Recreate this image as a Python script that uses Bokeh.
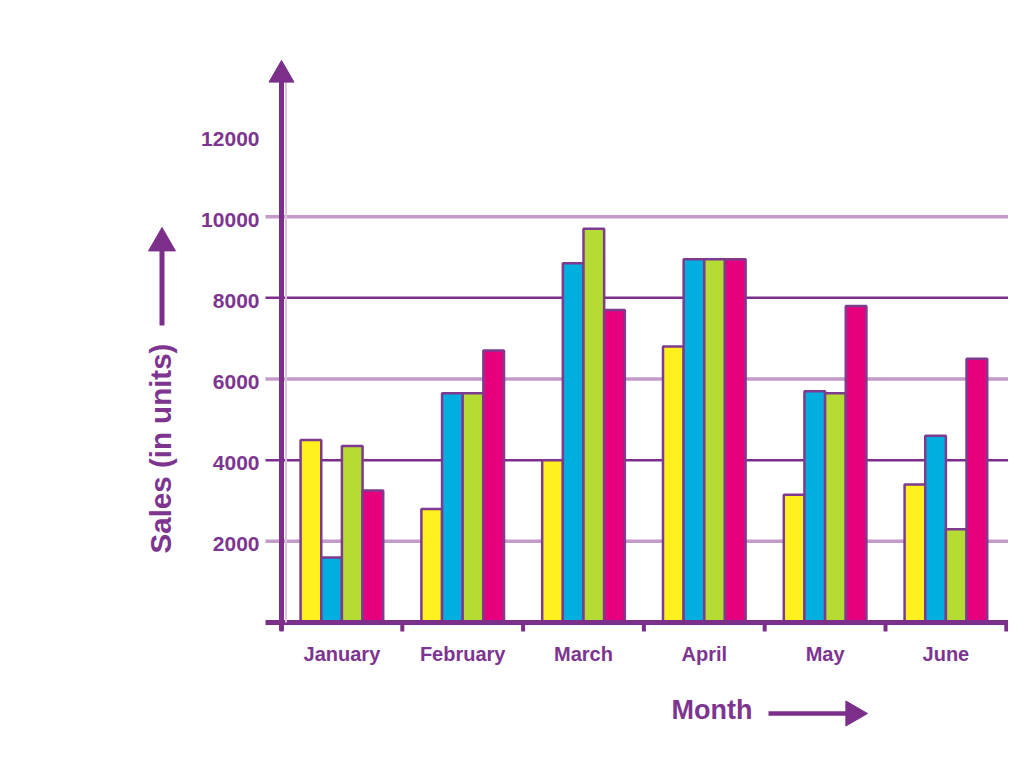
import numpy as np
from bokeh.plotting import figure
from bokeh.models import Range1d
from bokeh.core.properties import value
from bokeh.embed import file_html
from bokeh.resources import INLINE

# ---- data ----
months = ["January", "February", "March", "April", "May", "June"]
series_yellow = [4500, 2800, 4000, 6800, 3150, 3400]
series_blue = [1600, 5650, 8850, 8950, 5700, 4600]
series_green = [4350, 5650, 9700, 8950, 5650, 2300]
series_pink = [3250, 6700, 7700, 8950, 7800, 6500]
y_tick_values = [2000, 4000, 6000, 8000, 10000, 12000]
y_tick_labels = ["2000", "4000", "6000", "8000", "10000", "12000"]
light_grid_values = [2000, 6000, 10000]
dark_grid_values = [4000, 8000]

# ---- style ----
PURPLE = "#7b2f8b"
TEXT = "#7d3590"
LIGHT = "#c39ac8"
HALO = "#dcc4e0"
OUTLINE = "#7e3a8f"
FONT = "Liberation Sans"
colors = ["#fff01e", "#00afe0", "#b4dc33", "#e6007e"]

# pixel <-> data mapping of the canvas (frame fills the whole canvas)
W, H = 1008, 752
XPX0, XPX_PER = 281.0, 120.8      # pixel of x=0, pixels per month band
YPX0, YPX_PER = 622.0, 0.04058    # pixel of y=0, pixels per unit


def dx(px):
    return (px - XPX0) / XPX_PER


def dy(py):
    return (YPX0 - py) / YPX_PER


p = figure(width=W, height=H, output_backend="svg", toolbar_location=None,
           x_range=Range1d(dx(0), dx(W)), y_range=Range1d(dy(H), dy(0)),
           x_axis_location=None, y_axis_location=None, min_border=0)
p.outline_line_color = None
p.background_fill_color = "white"
p.border_fill_color = "white"
p.grid.visible = False

n = len(months)
centers = np.arange(n) + 0.5
boundaries = np.arange(n + 1)

# grid lines
p.segment(x0=dx(265), x1=dx(1010), y0=light_grid_values, y1=light_grid_values,
          line_color=LIGHT, line_width=3.5)
p.segment(x0=dx(265), x1=dx(1010), y0=dark_grid_values, y1=dark_grid_values,
          line_color=PURPLE, line_width=2.5)

# bars
bw = 0.171
all_series = [series_yellow, series_blue, series_green, series_pink]
for j, (vals, col) in enumerate(zip(all_series, colors)):
    xs = centers + (j - 1.5) * bw
    p.vbar(x=xs, top=vals, bottom=0, width=bw, fill_color=col,
           line_color=OUTLINE, line_width=2.5)

# x axis line and ticks
p.segment(x0=dx(265), x1=dx(W), y0=0, y1=0, line_color=PURPLE, line_width=5)
p.segment(x0=boundaries, x1=boundaries, y0=0, y1=dy(631),
          line_color=PURPLE, line_width=4)

# y axis line with arrow head
p.segment(x0=dx(285.5), x1=dx(285.5), y0=0, y1=dy(80), line_color=HALO, line_width=2)
p.segment(x0=0, x1=0, y0=dy(630), y1=dy(78), line_color=PURPLE, line_width=5)
p.scatter(x=[0], y=[dy(74.4)], marker="triangle", size=25,
          fill_color=PURPLE, line_color=PURPLE, line_width=1)

# tick labels
p.text(x=dx(259), y=y_tick_values, text=y_tick_labels, text_align="right",
       text_baseline="middle", y_offset=3, text_font=value(FONT),
       text_font_style="bold", text_font_size="21px", text_color=TEXT)
p.text(x=centers, y=dy(653), text=months, text_align="center",
       text_baseline="middle", text_font=value(FONT),
       text_font_style="bold", text_font_size="20px", text_color=TEXT)

# axis titles with arrows
p.text(x=[dx(160)], y=[dy(448)], text=["Sales (in units)"], angle=np.pi / 2,
       text_align="center", text_baseline="middle", text_font=value(FONT),
       text_font_style="bold", text_font_size="29.5px", text_color=TEXT)
p.segment(x0=dx(161.5), x1=dx(161.5), y0=dy(325), y1=dy(245),
          line_color=PURPLE, line_width=5)
p.scatter(x=[dx(161.5)], y=[dy(242.6)], marker="triangle", size=27,
          fill_color=PURPLE, line_color=PURPLE, line_width=1)

p.text(x=[dx(671)], y=[dy(709)], text=["Month"], text_align="left",
       text_baseline="middle", text_font=value(FONT),
       text_font_style="bold", text_font_size="27px", text_color=TEXT)
p.segment(x0=dx(768), x1=dx(850), y0=dy(713), y1=dy(713),
          line_color=PURPLE, line_width=4.5)
p.scatter(x=[dx(852.6)], y=[dy(713)], marker="triangle", size=25, angle=-np.pi / 2,
          fill_color=PURPLE, line_color=PURPLE, line_width=1)

open("out.html", "w").write(file_html(p, INLINE))
